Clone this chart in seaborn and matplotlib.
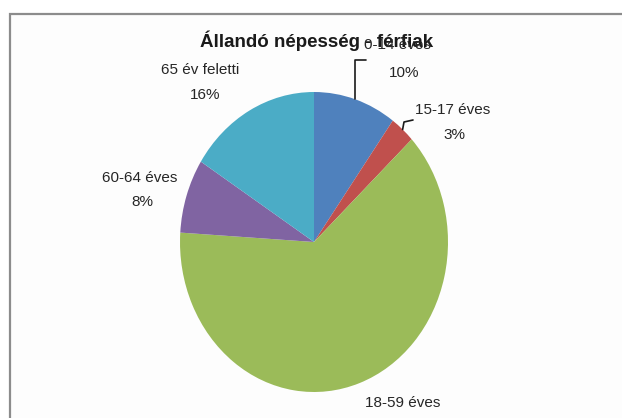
import numpy as np
import matplotlib
matplotlib.use("Agg")
import matplotlib.pyplot as plt
import matplotlib.patches as mpatches
import seaborn as sns

# ---- data ----
categories = ["0-14 éves", "15-17 éves", "18-59 éves", "60-64 éves", "65 év feletti"]
shares = [10, 3, 63, 8, 16]
pct_labels = ["10%", "3%", "63%", "8%", "16%"]
title = "Állandó népesség - férfiak"

sns.set_theme(style="white")
plt.rcParams['font.family'] = ['Liberation Sans', 'DejaVu Sans']

colors = ["#4F81BD", "#C0504D", "#9BBB59", "#8064A2", "#4BACC6"]

W, H = 622, 418
fig = plt.figure(figsize=(W / 100, H / 100), dpi=100)
fig.patch.set_facecolor("white")

# chart-area border (extends past right/bottom edge as in reference)
border = mpatches.Rectangle((10 / W, 1 - 430 / H), 640 / W, 416 / H,
                            transform=fig.transFigure, facecolor="#fdfdfd",
                            edgecolor="#8c8c8c", linewidth=1.6, zorder=-10)
fig.patches.append(border)

# pie geometry in pixels
cx, cy, rh, rv = 314, 242, 134, 150
ax = fig.add_axes([(cx - rh) / W, (H - cy - rv) / H, 2 * rh / W, 2 * rv / H])
ax.set_zorder(5)
ax.set_facecolor("none")
wedges, _ = ax.pie(shares, colors=colors, startangle=90, counterclock=False,
                   wedgeprops=dict(linewidth=0))
ax.set_aspect("auto")
ax.set_xlim(-1, 1)
ax.set_ylim(-1, 1)
ax.axis("off")


def d(x, y):
    return ((x - cx) / rh, (cy - y) / rv)


txt = dict(fontsize=11, color="#262626", ha="center", va="center", clip_on=False)

# label positions (pixels): name line, pct line
label_pos = {
    "0-14 éves": ((397, 45), (404, 73)),
    "15-17 éves": ((453, 110), (454, 135)),
    "18-59 éves": ((403, 403), (403, 432)),
    "60-64 éves": ((140, 178), (142, 202)),
    "65 év feletti": ((200, 70), (205, 95)),
}

for cat, pct in zip(categories, pct_labels):
    (nx, ny), (px, py) = label_pos[cat]
    ax.text(*d(nx, ny), cat, **txt)
    ax.text(*d(px, py), pct, **txt)

# leader lines from wedge mid-angles
cum = np.cumsum([0] + shares[:-1])
mids = [90 - 360 * (c + s / 2) / sum(shares) for c, s in zip(cum, shares)]


def edge(i):
    a = np.deg2rad(mids[i])
    return (np.cos(a), np.sin(a))


ex, ey = edge(0)
ax.plot([ex, ex, d(366, 60)[0]], [ey, d(0, 60)[1], d(0, 60)[1]],
        color="#1a1a1a", lw=1.2, clip_on=False)
ex, ey = edge(1)
p1, p2 = d(404, 122), d(413, 120)
ax.plot([ex, p1[0], p2[0]], [ey, p1[1], p2[1]], color="#1a1a1a", lw=1.2, clip_on=False)

fig.text(317 / W, 1 - 41 / H, title, fontsize=13.5, fontweight="bold",
         color="#1a1a1a", ha="center", va="center")

fig.savefig("out.png", dpi=100)
